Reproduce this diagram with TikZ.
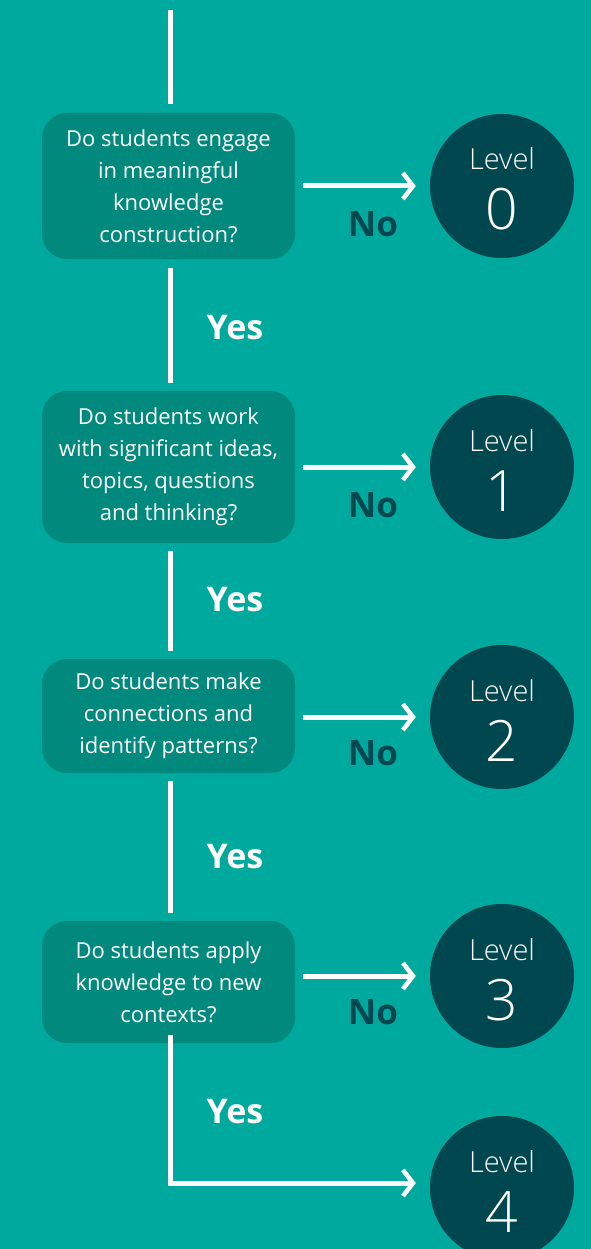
\documentclass[tikz,border=0pt]{standalone}
\usepackage{fontspec}
\setmainfont{Open Sans}
\newfontfamily\lightfont{Open Sans Light}
\usetikzlibrary{arrows.meta}
\definecolor{bg}{HTML}{00A99D}
\definecolor{boxc}{HTML}{00897C}
\definecolor{dark}{HTML}{004750}
\tikzset{
  qbox/.style={fill=boxc, rounded corners=25pt, minimum width=253pt, align=center,
    text=white, font=\fontsize{22}{32}\selectfont, inner sep=0pt},
  lvl/.style={circle, fill=dark, minimum size=144pt, inner sep=0pt},
  lvlword/.style={text=white, inner sep=0pt, font=\lightfont\fontsize{29}{29}\selectfont},
  lvlnum/.style={text=white, inner sep=0pt, font=\lightfont\fontsize{57}{57}\selectfont},
  flow/.style={draw=white, line width=5pt},
  tip/.style={-{Straight Barb[length=10pt,width=26pt,line width=4.5pt]}},
  noarrow/.style={flow, tip, shorten <=8pt, shorten >=14pt},
  nolab/.style={text=dark, font=\fontsize{35}{36}\selectfont\bfseries},
  yeslab/.style={text=white, font=\fontsize{34}{36}\selectfont\bfseries}
}
\begin{document}
\begin{tikzpicture}[x=1pt,y=-1pt]
\fill[bg] (0,0) rectangle (591,1249);
\useasboundingbox (0,0) rectangle (591,1249);
\node[qbox, minimum height=146pt] (b1) at (168.5,186) {Do students engage\\in meaningful\\knowledge\\construction?};
\node[qbox, minimum height=152pt] (b2) at (168.5,467) {Do students work\\with significant ideas,\\topics, questions\\and thinking?};
\node[qbox, minimum height=114pt] (b3) at (168.5,716) {Do students make\\connections and\\identify patterns?};
\node[qbox, minimum height=122pt] (b4) at (168.5,982) {Do students apply\\knowledge to new\\contexts?};
\foreach \n/\y in {0/186,1/467,2/717,3/976,4/1188}{
  \node[lvl] (c\n) at (502,\y) {};
  \node[lvlword, anchor=base] (w\n) at ([yshift=16pt]c\n.center) {Level};
  \node[lvlnum, anchor=base] (d\n) at ([yshift=-44pt]c\n.center) {\n};
}
\coordinate (top) at (170,10);
\draw[flow, shorten >=9pt] (top) -- (top |- b1.north);
\draw[flow, shorten <=9pt, shorten >=8pt] ([xshift=1.5pt]b1.south) -- ([xshift=1.5pt]b2.north);
\draw[flow, shorten <=8pt, shorten >=8pt] ([xshift=1.5pt]b2.south) -- ([xshift=1.5pt]b3.north);
\draw[flow, shorten <=8pt, shorten >=8pt] ([xshift=1.5pt]b3.south) -- ([xshift=1.5pt]b4.north);
\draw[flow, tip, shorten >=14pt] ([xshift=1.5pt,yshift=8pt]b4.south) |- ([yshift=5pt]c4.west);
\draw[noarrow] (b1.east |- c0.west) -- (c0.west);
\draw[noarrow] (b2.east |- c1.west) -- (c1.west);
\draw[noarrow] (b3.east |- c2.west) -- (c2.west);
\draw[noarrow] (b4.east |- c3.west) -- (c3.west);
\node[nolab] (n0) at (373,224) {No};
\node[nolab] (n1) at (373,505) {No};
\node[nolab] (n2) at (373,753) {No};
\node[nolab] (n3) at (373,1012) {No};
\node[yeslab] (y1) at (235,328) {Yes};
\node[yeslab] (y2) at (235,600) {Yes};
\node[yeslab] (y3) at (235,857) {Yes};
\node[yeslab] (y4) at (235,1112) {Yes};
\end{tikzpicture}
\end{document}
